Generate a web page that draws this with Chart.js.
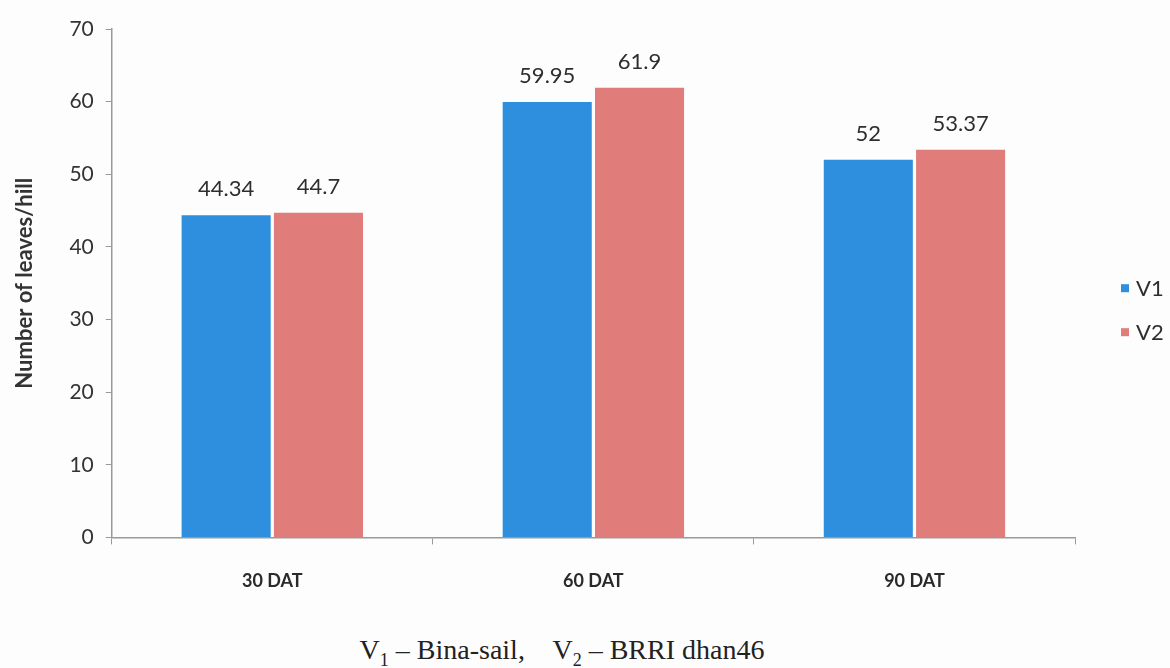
<!DOCTYPE html>
<html>
<head>
<meta charset="utf-8">
<script src="https://cdn.jsdelivr.net/npm/chart.js@4/dist/chart.umd.min.js"></script>
<style>
  html, body { margin: 0; padding: 0; background: #fdfdfe; }
  #wrap { position: relative; width: 1170px; height: 618px; }
  #caption {
    position: absolute; left: 0; top: 635px; width: 1124px; text-align: center;
    font-family: "Liberation Serif", "DejaVu Serif", serif; font-size: 28px; color: #222;
    line-height: 30px;
  }
  #caption sub { font-size: 18px; }
</style>
</head>
<body>
<div id="wrap"><canvas id="c" width="1170" height="618"></canvas></div>
<div id="caption">V<sub>1</sub> – Bina-sail,&nbsp;&nbsp;&nbsp; V<sub>2</sub> – BRRI dhan46</div>
<script>
const categories = ["30 DAT", "60 DAT", "90 DAT"];
const v1 = [44.34, 59.95, 52];
const v2 = [44.7, 61.9, 53.37];
const v1Labels = ["44.34", "59.95", "52"];
const v2Labels = ["44.7", "61.9", "53.37"];
const seriesNames = ["V1", "V2"];

const FONT = "Lato, 'Open Sans', sans-serif";

// Writes each bar's value just above it
const valueLabels = {
  id: "valueLabels",
  afterDatasetsDraw(chart) {
    const ctx = chart.ctx;
    const texts = [v1Labels, v2Labels];
    ctx.save();
    ctx.font = "22px " + FONT;
    ctx.fillStyle = "#2e2e2e";
    ctx.textAlign = "center";
    ctx.textBaseline = "bottom";
    chart.data.datasets.forEach((ds, i) => {
      chart.getDatasetMeta(i).data.forEach((bar, j) => {
        ctx.fillText(texts[i][j], bar.x, bar.y - 15);
      });
    });
    ctx.restore();
  }
};

// Small square-and-name key in the right margin, beside the plot
const sideLegend = {
  id: "sideLegend",
  afterDraw(chart) {
    const ctx = chart.ctx;
    const area = chart.chartArea;
    const x0 = area.right + 46;
    const yMid = (area.top + area.bottom) / 2 + 27;
    const gap = 44;
    ctx.save();
    ctx.font = "22px " + FONT;
    ctx.textBaseline = "middle";
    ctx.textAlign = "left";
    chart.data.datasets.forEach((ds, i) => {
      const y = yMid + (i - 0.5) * gap;
      ctx.fillStyle = ds.backgroundColor;
      ctx.fillRect(x0, y - 4, 8, 8);
      ctx.fillStyle = "#2e2e2e";
      ctx.fillText(ds.label, x0 + 15, y + 1);
    });
    ctx.restore();
  }
};

new Chart(document.getElementById("c"), {
  type: "bar",
  data: {
    labels: categories,
    datasets: [
      { label: seriesNames[0], data: v1, backgroundColor: "#2D8FDD",
        categoryPercentage: 0.575, barPercentage: 0.965 },
      { label: seriesNames[1], data: v2, backgroundColor: "#E07C7A",
        categoryPercentage: 0.575, barPercentage: 0.965 }
    ]
  },
  options: {
    responsive: false,
    animation: false,
    layout: { padding: { top: 29, right: 95, left: 8, bottom: 0 } },
    plugins: {
      tooltip: { enabled: false },
      legend: { display: false }
    },
    scales: {
      x: {
        grid: { offset: true, drawOnChartArea: false, drawTicks: true, tickLength: 7, color: "#999" },
        border: { color: "#999", width: 1.5 },
        ticks: { color: "#2a2a2a", font: { family: FONT, size: 18, weight: "bold" }, padding: 26 }
      },
      y: {
        min: 0, max: 70,
        ticks: { stepSize: 10, color: "#333", font: { family: FONT, size: 21 }, padding: 12 },
        grid: { drawOnChartArea: false, drawTicks: true, tickLength: 6, color: "#999" },
        border: { color: "#999", width: 1.5 },
        title: {
          display: true, text: "Number of leaves/hill", color: "#333",
          font: { family: FONT, size: 22, weight: "bold" }, padding: { top: 4, bottom: 19 }
        }
      }
    }
  },
  plugins: [valueLabels, sideLegend]
});
</script>
</body>
</html>
